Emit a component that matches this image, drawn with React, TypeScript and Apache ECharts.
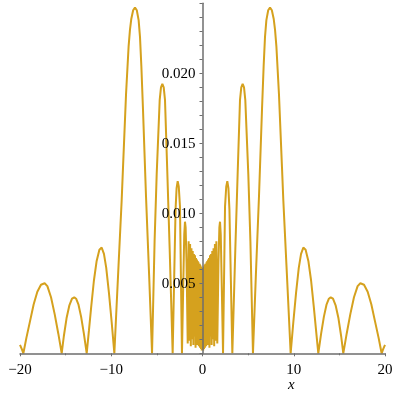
import React, { useEffect, useRef } from "react";
import * as echarts from "echarts";

// Curve samples [x, y], left to right
const outerLeft: [number, number][] = [
  [-20, 0.0006], [-19.8, 0.0003], [-19.63, 0], [-19.3, 0.0011], [-18.9, 0.0023],
  [-18.5, 0.0035], [-18.1, 0.0044], [-17.7, 0.0049], [-17.3, 0.005], [-17.0, 0.0048],
  [-16.6, 0.004], [-16.2, 0.0028], [-15.8, 0.0014], [-15.43, 0],
  [-15.2, 0.0012], [-14.9, 0.0025], [-14.6, 0.0034], [-14.3, 0.0039], [-14.05, 0.004],
  [-13.85, 0.0039], [-13.6, 0.0035], [-13.3, 0.0026], [-13.0, 0.0014], [-12.69, 0],
  [-12.45, 0.0016], [-12.2, 0.0033], [-11.9, 0.0052], [-11.6, 0.0066], [-11.3, 0.0074],
  [-11.05, 0.00755], [-10.8, 0.0071], [-10.55, 0.0061], [-10.25, 0.0043], [-9.95, 0.0022],
  [-9.66, 0],
];

const innerLeft: [number, number][] = [
  [-9.45, 0.0029], [-9.2, 0.0063], [-8.86, 0.0109], [-8.71, 0.0133], [-8.38, 0.0185],
  [-8.1, 0.0219], [-7.95, 0.0231], [-7.8, 0.0239], [-7.6, 0.0245], [-7.4, 0.0247],
  [-7.2, 0.0245], [-7.0, 0.0238], [-6.85, 0.0226], [-6.7, 0.0205],
  [-6.52, 0.0174], [-6.19, 0.0112], [-5.85, 0.0056], [-5.53, 0],
  [-5.25, 0.008], [-5.02, 0.0128], [-4.69, 0.0181], [-4.55, 0.019], [-4.4, 0.01924],
  [-4.25, 0.019], [-4.11, 0.0181], [-3.86, 0.013], [-3.6, 0.0075], [-3.27, 0],
  [-3.1, 0.0055], [-2.95, 0.0103], [-2.84, 0.0118], [-2.72, 0.0123], [-2.6, 0.0119],
  [-2.47, 0.0105], [-2.25, 0],
  [-2.12, 0.0045], [-2.0, 0.0085], [-1.92, 0.0094], [-1.85, 0.009], [-1.75, 0.0065],
];

const centerBand: [number, number][] = [
  [-1.62, 0.0007], [-1.52, 0.008], [-1.44, 0.0009], [-1.36, 0.0078], [-1.28, 0.0005],
  [-1.21, 0.0075], [-1.14, 0.001], [-1.07, 0.0073], [-1.0, 0.0006], [-0.94, 0.0071],
  [-0.88, 0.0012], [-0.82, 0.007], [-0.76, 0.0004], [-0.71, 0.0068], [-0.66, 0.001],
  [-0.61, 0.0067], [-0.56, 0.0006], [-0.52, 0.0066], [-0.48, 0.0012], [-0.44, 0.0065],
  [-0.4, 0.0005], [-0.36, 0.0064], [-0.33, 0.001], [-0.3, 0.0064], [-0.27, 0.0004],
  [-0.24, 0.0063], [-0.215, 0.0008], [-0.19, 0.0062], [-0.165, 0.0003], [-0.14, 0.0062],
  [-0.12, 0.0006], [-0.1, 0.0061], [-0.08, 0.0002], [-0.06, 0.0061], [-0.045, 0.0004],
  [-0.03, 0.006], [-0.015, 0.0003], [0, 0.006],
  [0.015, 0.0003], [0.03, 0.006], [0.045, 0.0004], [0.06, 0.0061], [0.08, 0.0002],
  [0.1, 0.0061], [0.12, 0.0006], [0.14, 0.0062], [0.165, 0.0003], [0.19, 0.0062],
  [0.215, 0.0008], [0.24, 0.0063], [0.27, 0.0004], [0.3, 0.0064], [0.33, 0.001],
  [0.36, 0.0064], [0.4, 0.0005], [0.44, 0.0065], [0.48, 0.0012], [0.52, 0.0066],
  [0.56, 0.0006], [0.61, 0.0067], [0.66, 0.001], [0.71, 0.0068], [0.76, 0.0004],
  [0.82, 0.007], [0.88, 0.0012], [0.94, 0.0071], [1.0, 0.0006], [1.07, 0.0073],
  [1.14, 0.001], [1.21, 0.0075], [1.28, 0.0005], [1.36, 0.0078], [1.44, 0.0009],
  [1.52, 0.008], [1.62, 0.0007],
];

const innerRight: [number, number][] = [
  [1.75, 0.0065], [1.85, 0.009], [1.92, 0.0094], [2.0, 0.0085], [2.12, 0.0045],
  [2.25, 0],
  [2.47, 0.0105], [2.6, 0.0119], [2.72, 0.0123], [2.84, 0.0118], [2.95, 0.0103],
  [3.1, 0.0055], [3.27, 0],
  [3.6, 0.0075], [3.86, 0.013], [4.11, 0.0181], [4.25, 0.019], [4.4, 0.01924],
  [4.55, 0.019], [4.69, 0.0181], [5.02, 0.0128], [5.25, 0.008], [5.53, 0],
  [5.85, 0.0056], [6.19, 0.0112], [6.52, 0.0174], [6.7, 0.0205], [6.85, 0.0226],
  [7.0, 0.0238], [7.2, 0.0245], [7.4, 0.0247], [7.6, 0.0245], [7.8, 0.0239],
  [7.95, 0.0231], [8.1, 0.0219], [8.38, 0.0185], [8.71, 0.0133],
  [8.86, 0.0109], [9.2, 0.0063], [9.45, 0.0029], [9.66, 0],
];

const outerRight: [number, number][] = [
  [9.95, 0.0022], [10.25, 0.0043], [10.55, 0.0061], [10.8, 0.0071], [11.05, 0.00755],
  [11.3, 0.0074], [11.6, 0.0066], [11.9, 0.0052], [12.2, 0.0033], [12.45, 0.0016],
  [12.69, 0],
  [13.0, 0.0014], [13.3, 0.0026], [13.6, 0.0035], [13.85, 0.0039], [14.05, 0.004],
  [14.3, 0.0039], [14.6, 0.0034], [14.9, 0.0025], [15.2, 0.0012], [15.43, 0],
  [15.8, 0.0014], [16.2, 0.0028], [16.6, 0.004], [17.0, 0.0048], [17.3, 0.005],
  [17.7, 0.0049], [18.1, 0.0044], [18.5, 0.0035], [18.9, 0.0023], [19.3, 0.0011],
  [19.63, 0], [19.8, 0.0003], [20, 0.0006],
];

const xRange = [-20, 20];
const yRange = [0, 0.025];
const xStep = 10;
const yStep = 0.005;

const AXIS = "#6e6e6e";
const SERIF = "Liberation Serif";
const GRID_LEFT = 20;
const GRID_RIGHT = 15;
const CHART_W = 400;

export default function App() {
  const ref = useRef<HTMLDivElement>(null);
  useEffect(() => {
    const chart = echarts.init(ref.current!, null, { renderer: "svg" });
    const data = [...outerLeft, ...innerLeft, ...centerBand, ...innerRight, ...outerRight];
    // shift the y axis (line, ticks and labels) to sit at x = 0
    const plotW = CHART_W - GRID_LEFT - GRID_RIGHT;
    const zeroShift = (plotW * (0 - xRange[0])) / (xRange[1] - xRange[0]);
    chart.setOption({
      animation: false,
      grid: {
        left: GRID_LEFT,
        right: GRID_RIGHT,
        top: 3.3,
        bottom: 46.7,
        containLabel: false,
        outerBoundsMode: "none",
      },
      xAxis: {
        type: "value",
        min: xRange[0],
        max: xRange[1],
        interval: xStep,
        z: 10,
        axisLine: { onZero: false, lineStyle: { color: AXIS, width: 1.5 } },
        axisTick: { show: true, length: 3, lineStyle: { color: AXIS } },
        minorTick: { show: true, splitNumber: 2, length: 2, lineStyle: { color: AXIS } },
        splitLine: { show: false },
        minorSplitLine: { show: false },
        axisLabel: {
          formatter: (v: number) => (v < 0 ? "\u2212" + Math.abs(v) : String(v)),
          fontFamily: SERIF,
          fontSize: 15,
          color: "#000",
          margin: 8,
          hideOverlap: false,
        },
      },
      yAxis: {
        type: "value",
        min: yRange[0],
        max: yRange[1],
        interval: yStep,
        offset: -zeroShift,
        z: 10,
        axisLine: { onZero: false, lineStyle: { color: AXIS, width: 1.5 } },
        axisTick: { show: true, length: 3, lineStyle: { color: AXIS } },
        minorTick: { show: true, splitNumber: 5, length: 3, lineStyle: { color: AXIS } },
        splitLine: { show: false },
        minorSplitLine: { show: false },
        axisLabel: {
          formatter: (v: number) => (v <= 0 || v >= 0.0249 ? "" : v.toFixed(3)),
          fontFamily: SERIF,
          fontSize: 15,
          color: "#000",
          margin: 7,
        },
      },
      series: [
        {
          type: "line",
          data,
          showSymbol: false,
          symbol: "none",
          lineStyle: { color: "#d5a11e", width: 2 },
          clip: false,
          z: 2,
        },
      ],
      graphic: [
        {
          type: "text",
          left: 288,
          top: 376,
          style: { text: "x", font: "italic 15px Liberation Serif", fill: "#000" },
        },
      ],
    });
    return () => chart.dispose();
  }, []);
  return (
    <div
      ref={ref}
      style={{ position: "fixed", left: 0, top: 0, width: CHART_W, height: 400 }}
    />
  );
}
